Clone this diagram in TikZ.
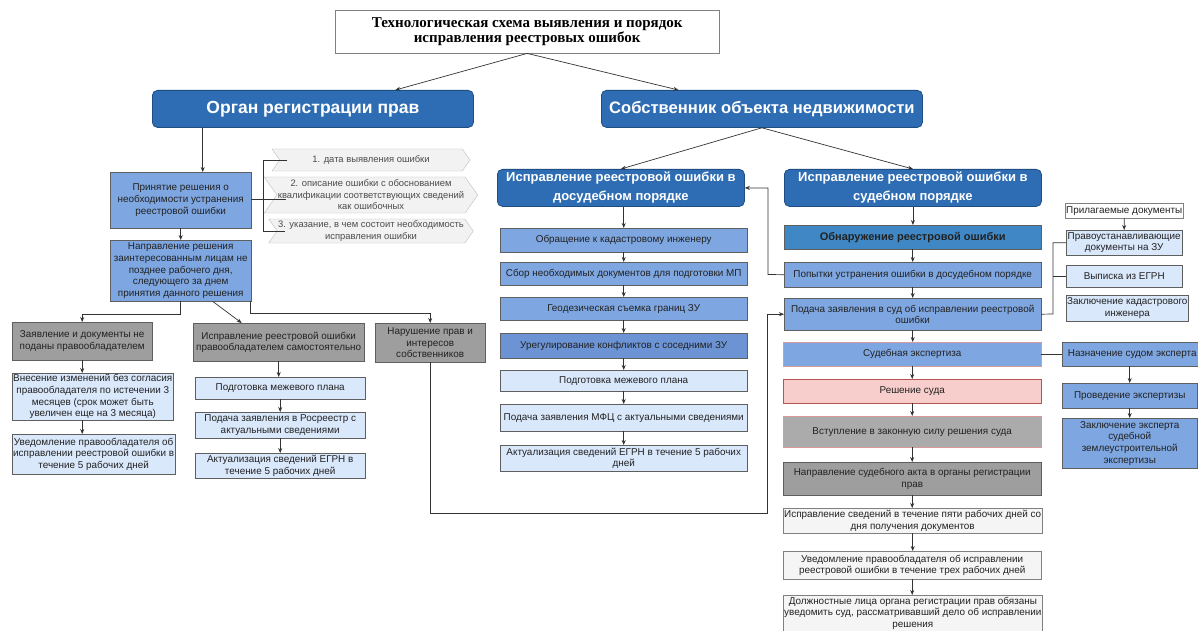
\documentclass[tikz,border=0pt]{standalone}
\usepackage{fontspec}
\setmainfont{Liberation Sans}
\newfontfamily\titlefont{Liberation Serif}
\usetikzlibrary{arrows.meta,shapes.symbols}

\definecolor{hdblue}{HTML}{2E6DB4}
\definecolor{hdedge}{HTML}{1F4E82}
\definecolor{midblue}{HTML}{7EA6E0}
\definecolor{deepblue}{HTML}{6C93D3}
\definecolor{paleblue}{HTML}{DAE8FC}
\definecolor{greyfill}{HTML}{9E9E9E}
\definecolor{findblue}{HTML}{3F88C5}
\definecolor{pinkfill}{HTML}{F8CECC}
\definecolor{pinkedge}{HTML}{B85450}
\definecolor{softedge}{HTML}{D79B9B}
\definecolor{paper}{HTML}{F5F5F5}
\definecolor{chevfill}{HTML}{F2F2F2}
\definecolor{chevedge}{HTML}{BFBFBF}
\definecolor{linec}{HTML}{333333}
\definecolor{boxedge}{HTML}{5F5F5F}
\definecolor{txt}{HTML}{222222}

\tikzset{
  every node/.style={align=center, inner sep=1pt},
  cell/.style={draw=boxedge, anchor=north west, text=txt, font=\fontsize{9.9}{11.6}\selectfont},
  titlebox/.style={draw=gray, fill=white, anchor=north west, font={\titlefont\fontsize{15}{11}\selectfont\bfseries}},
  headbox/.style={anchor=north west, rounded corners=5pt, fill=hdblue, draw=hdedge, line width=0.8pt, text=white, font={\fontsize{17.5}{20}\selectfont\bfseries}},
  subhead/.style={headbox, font={\fontsize{13}{19}\selectfont\bfseries}},
  midbox/.style={cell, fill=midblue},
  deepbox/.style={cell, fill=deepblue},
  palebox/.style={cell, fill=paleblue},
  greybox/.style={cell, fill=greyfill},
  findbox/.style={cell, fill=findblue, font={\fontsize{11}{13}\selectfont\bfseries}},
  pinkbox/.style={cell, fill=pinkfill, draw=pinkedge},
  paperbox/.style={cell, fill=paper, draw=gray},
  chev/.style={signal, signal from=west, signal to=east, signal pointer angle=110, draw=chevedge, fill=chevfill, text=black!70, font=\fontsize{9.4}{11.5}\selectfont},
  flow/.style={draw=linec, line width=0.7pt, -{Stealth[length=5pt,width=4pt]}},
  link/.style={draw=linec, line width=0.7pt}
}

\begin{document}
\begin{tikzpicture}[x=1pt,y=-1pt]
\clip (0,0) rectangle (1198,631);
\fill[white] (0,0) rectangle (1198,631);

% title and the two main branches
\node[titlebox, minimum width=384, minimum height=43] (title) at (335,10) {Технологическая схема выявления и порядок\\исправления реестровых ошибок};
\node[headbox, minimum width=321, minimum height=37] (regorg) at (152,90) {Орган регистрации прав};
\node[headbox, font={\fontsize{16.6}{20}\selectfont\bfseries}, minimum width=321, minimum height=37] (owner) at (601,90) {Собственник объекта недвижимости};

% left side: registration body
\node[midbox, minimum width=141, minimum height=56] (dec) at (110,172) {Принятие решения о\\необходимости устранения\\реестровой ошибки};
\node[midbox, minimum width=141, minimum height=61] (send) at (110,240) {Направление решения\\заинтересованным лицам не\\позднее рабочего дня,\\следующего за днем\\принятия данного решения};
\node[chev, minimum width=198, minimum height=22] (ch1) at (371,160) {1. дата выявления ошибки};
\node[chev, minimum width=198, minimum height=36] (ch2) at (371,195) {2. описание ошибки с обоснованием\\квалификации соответствующих сведений\\как ошибочных};
\node[chev, minimum width=198, minimum height=24] (ch3) at (371,231) {3. указание, в чем состоит необходимость\\исправления ошибки};

\node[greybox, minimum width=140, minimum height=38] (nofile) at (12,322) {Заявление и документы не\\поданы правообладателем};
\node[palebox, minimum width=161, minimum height=47] (force) at (12,373) {Внесение изменений без согласия\\правообладателя по истечении 3\\месяцев (срок может быть\\увеличен еще на 3 месяца)};
\node[palebox, minimum width=161, minimum height=40] (notify) at (12,434) {Уведомление правообладателя об\\исправлении реестровой ошибки в\\течение 5 рабочих дней};

\node[greybox, minimum width=171, minimum height=38] (self) at (193,323) {Исправление реестровой ошибки\\правообладателем самостоятельно};
\node[palebox, minimum width=170, minimum height=22] (plan) at (195,377) {Подготовка межевого плана};
\node[palebox, minimum width=170, minimum height=26] (apply) at (195,412) {Подача заявления в Росреестр с\\актуальными сведениями};
\node[palebox, minimum width=170, minimum height=25] (renew) at (195,453) {Актуализация сведений ЕГРН в\\течение 5 рабочих дней};

\node[greybox, minimum width=110, minimum height=39] (viol) at (375,323) {Нарушение прав и\\интересов\\собственников};

% owner: pre-trial way
\node[subhead, minimum width=247, minimum height=37] (pre) at (497,169) {Исправление реестровой ошибки в\\досудебном порядке};
\node[midbox, minimum width=247, minimum height=24] (p1) at (500,228) {Обращение к кадастровому инженеру};
\node[midbox, minimum width=247, minimum height=23] (p2) at (500,262) {Сбор необходимых документов для подготовки МП};
\node[midbox, minimum width=247, minimum height=23] (p3) at (500,297) {Геодезическая съемка границ ЗУ};
\node[deepbox, minimum width=247, minimum height=25] (p4) at (500,333) {Урегулирование конфликтов с соседними ЗУ};
\node[palebox, minimum width=247, minimum height=21] (p5) at (500,370) {Подготовка межевого плана};
\node[palebox, minimum width=247, minimum height=27] (p6) at (500,404) {Подача заявления МФЦ с актуальными сведениями};
\node[palebox, minimum width=247, minimum height=26] (p7) at (500,445) {Актуализация сведений ЕГРН в течение 5 рабочих\\дней};

% owner: court way
\node[subhead, minimum width=257, minimum height=37] (court) at (784,169) {Исправление реестровой ошибки в\\судебном порядке};
\node[findbox, minimum width=257, minimum height=24] (c1) at (784,225) {Обнаружение реестровой ошибки};
\node[midbox, minimum width=257, minimum height=25] (c2) at (784,262) {Попытки устранения ошибки в досудебном порядке};
\node[midbox, minimum width=257, minimum height=32] (c3) at (784,298) {Подача заявления в суд об исправлении реестровой\\ошибки};
\node[midbox, draw=softedge, minimum width=258, minimum height=24] (c4) at (783,342) {Судебная экспертиза};
\node[pinkbox, minimum width=258, minimum height=24] (c5) at (783,379) {Решение суда};
\node[greybox, draw=softedge, fill=black!33, minimum width=258, minimum height=31] (c6) at (783,416) {Вступление в законную силу решения суда};
\node[greybox, minimum width=258, minimum height=33] (c7) at (783,462) {Направление судебного акта в органы регистрации\\прав};
\node[paperbox, minimum width=258, minimum height=25] (c8) at (783,508) {Исправление сведений в течение пяти рабочих дней со\\дня получения документов};
\node[paperbox, minimum width=258, minimum height=28] (c9) at (783,551) {Уведомление правообладателя об исправлении\\реестровой ошибки в течение трех рабочих дней};
\node[paperbox, font=\fontsize{9.9}{11.2}\selectfont, minimum width=258, minimum height=36] (c10) at (783,595) {Должностные лица органа регистрации прав обязаны\\уведомить суд, рассматривавший дело об исправлении\\решения};

% attached documents
\node[cell, draw=gray, fill=white, minimum width=116, minimum height=15] (docs) at (1065,203) {Прилагаемые документы};
\node[palebox, minimum width=116, minimum height=25] (d1) at (1066,230) {Правоустанавливающие\\документы на ЗУ};
\node[palebox, minimum width=116, minimum height=22] (d2) at (1066,265) {Выписка из ЕГРН};
\node[palebox, minimum width=116, minimum height=26] (d3) at (1066,295) {Заключение кадастрового\\инженера};

% expertise
\node[midbox, minimum width=140, minimum height=24] (e1) at (1062,342) {Назначение судом эксперта};
\node[midbox, minimum width=135, minimum height=25] (e2) at (1062,383) {Проведение экспертизы};
\node[midbox, minimum width=135, minimum height=50] (e3) at (1062,418) {Заключение эксперта\\судебной\\землеустроительной\\экспертизы};

% connectors
\coordinate (decin) at ([xshift=22]dec.north);
\coordinate (brk) at (263,199);
\coordinate (lowbend) at (767,513);
\coordinate (upbend) at (768,274.5);
\coordinate (docbend) at (1053,314);

\draw[flow] (title.south) -- ([xshift=82.5]regorg.north);
\draw[flow] (title.south) -- ([xshift=-83.5]owner.north);
\draw[flow] (decin |- regorg.south) -- (decin);
\draw[flow] (dec.south) -- (send.north);
\draw[link] (dec.east |- brk) -- ([xshift=9]ch2.west |- brk);
\draw[link, shorten <=-8pt] (ch1.west) -| (brk);
\draw[link, shorten <=-8pt] (ch3.west) -| (brk);

\draw[flow] (send.south) -- ++(0,13) -| (nofile.north);
\draw[flow] ([xshift=32]send.south) -- ([xshift=-37]self.north);
\draw[flow] ([xshift=-1]send.south east) -- ++(0,12) -| (viol.north);
\draw[flow] (nofile.south) -- (nofile.south |- force.north);
\draw[flow] (nofile.south |- force.south) -- (nofile.south |- notify.north);
\draw[flow] (self.south) -- (self.south |- plan.north);
\foreach \a/\b in {plan/apply, apply/renew}
  \draw[flow] (\a.south) -- (\a.south |- \b.north);

\draw[flow] (owner.south) -- (pre.north);
\draw[flow] (owner.south) -- (court.north);
\draw[flow] (p1.north |- pre.south) -- (p1.north);
\foreach \a/\b in {p1/p2, p2/p3, p3/p4, p4/p5, p5/p6, p6/p7}
  \draw[flow] (\a.south) -- (\b.north);
\foreach \a/\b in {court/c1, c1/c2, c2/c3, c3/c4, c4/c5, c5/c6, c6/c7, c7/c8, c8/c9, c9/c10}
  \draw[flow] (\a.south) -- (\a.south |- \b.north);

\draw[flow] (c2.west) -- (upbend) |- (pre.east);
\draw[flow] (viol.south) |- (lowbend) |- (c3.west);

\draw[link] (c3.east) -- (docbend) |- (d1.west);
\draw[link] (docbend |- d2.west) -- (d2.west);
\draw[flow] (docs.south) -- (d1.north);

\draw[link] (c4.east) -- (e1.west);
\draw[flow] (e2.north |- e1.south) -- (e2.north);
\draw[flow] (e2.south) -- (e3.north);
\end{tikzpicture}
\end{document}
